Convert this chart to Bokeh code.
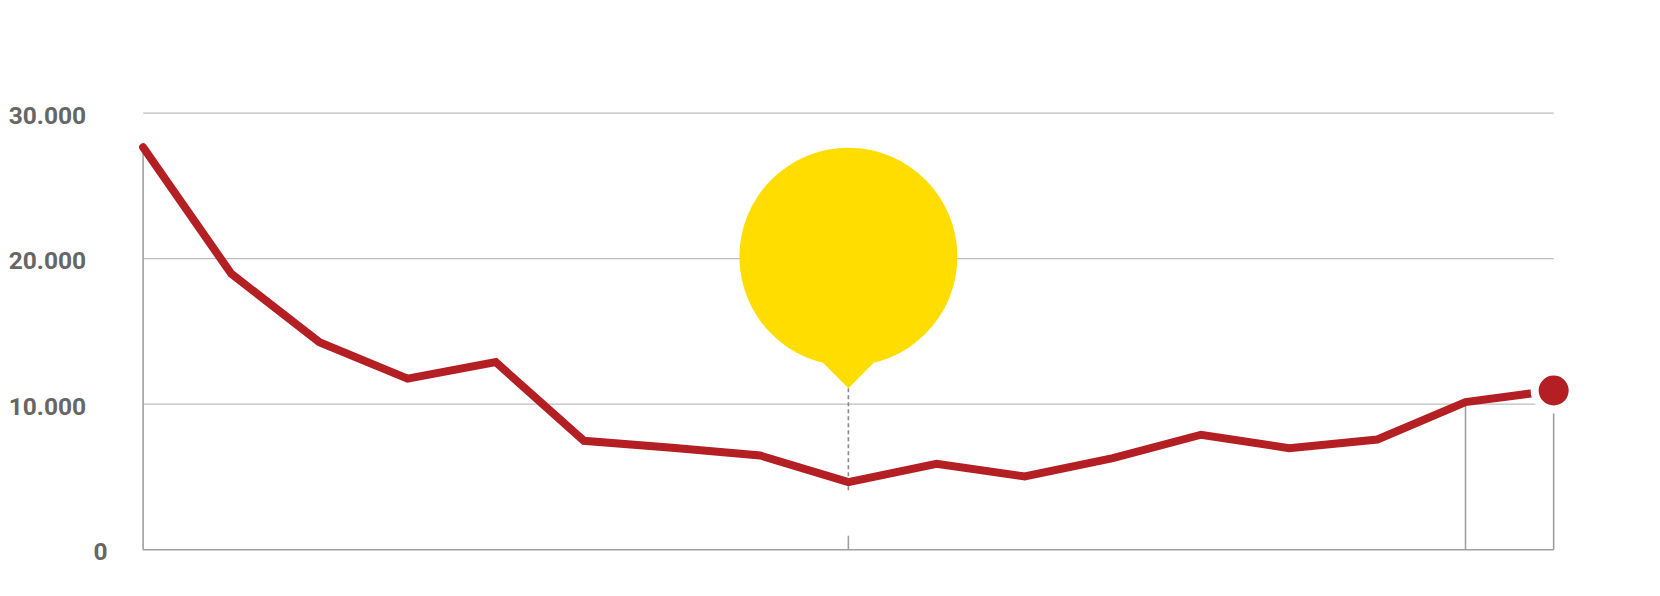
from bokeh.plotting import figure
from bokeh.models import ColumnDataSource
from bokeh.core.properties import value
from bokeh.embed import file_html
from bokeh.resources import INLINE

# ---- data ----
idx = list(range(17))
values = [27660, 18960, 14260, 11750, 12890, 7480, 7000, 6470, 4640,
          5900, 5030, 6290, 7900, 6980, 7570, 10140, 10940]
tick_values = [30000, 20000, 10000, 0]
tick_labels = ["30.000", "20.000", "10.000", "0"]
marked = [0, 15, 16]        # points with a solid drop line
bubble_at = 8               # point with the yellow bubble

# ---- layout helpers ----
W, H = 1644, 580
x_left_px = 142.6           # canvas px of index 0
x_step_px = 88.16
y_zero_px = 549.2           # canvas px of value 0 (from top)
y_px_per_unit = 0.014553

x_start = -x_left_px / x_step_px
x_end = (W - x_left_px) / x_step_px
y_start = (y_zero_px - H) / y_px_per_unit
y_end = y_zero_px / y_px_per_unit

def px_to_val(dpx):
    return dpx / y_px_per_unit

p = figure(width=W, height=H, x_range=(x_start, x_end), y_range=(y_start, y_end),
           x_axis_type=None, y_axis_type=None, toolbar_location=None,
           output_backend="svg", min_border=0, outline_line_color=None,
           background_fill_color="white", border_fill_color="white")
p.grid.visible = False

last = idx[-1]
# gridlines
grid_vals = [v for v in tick_values if v != 0]
p.segment(x0=[idx[0]] * len(grid_vals), x1=[last] * len(grid_vals),
          y0=grid_vals, y1=grid_vals, line_color="#bdbdbd", line_width=1.3)
# baseline
p.segment(x0=[idx[0]], x1=[last], y0=[0], y1=[0], line_color="#a0a0a0", line_width=1.6)
# drop lines
p.segment(x0=marked, x1=marked, y0=[values[i] for i in marked], y1=[0] * len(marked),
          line_color="#a0a0a0", line_width=1.6)
# bubble marker lines
tip_val = values[bubble_at] + px_to_val(94)
p.segment(x0=[bubble_at], x1=[bubble_at], y0=[tip_val], y1=[values[bubble_at] - px_to_val(11)],
          line_color="#8a8a8a", line_width=1.6, line_dash="4 3")
p.segment(x0=[bubble_at], x1=[bubble_at], y0=[0], y1=[px_to_val(14)],
          line_color="#a0a0a0", line_width=1.6)

# main line
p.line(idx, values, line_color="#b31f23", line_width=8, line_join="miter", line_cap="round")

# yellow bubble
bubble_center = values[bubble_at] + px_to_val(225.4)
p.scatter([bubble_at], [tip_val + px_to_val(25.6)], marker="square", size=36.3,
          angle=0.785398, fill_color="#ffdd00", line_color=None)
p.circle([bubble_at], [bubble_center], radius=109, radius_units="screen",
         fill_color="#ffdd00", line_color=None)

# end dot
p.scatter([last], [values[last]], size=38, fill_color="#b31f23",
          line_color="white", line_width=8)

# y labels
lab_src = ColumnDataSource(dict(x=[idx[0]] * 4, y=tick_values, text=tick_labels,
                                xo=[-57, -57, -57, -35.5]))
p.text(x="x", y="y", text="text", x_offset="xo", y_offset=2, source=lab_src,
       text_font=value("Roboto"), text_font_size="24.5px", text_font_style="bold",
       text_color="#666666", text_align="right", text_baseline="middle")

open("out.html", "w").write(file_html(p, INLINE))
